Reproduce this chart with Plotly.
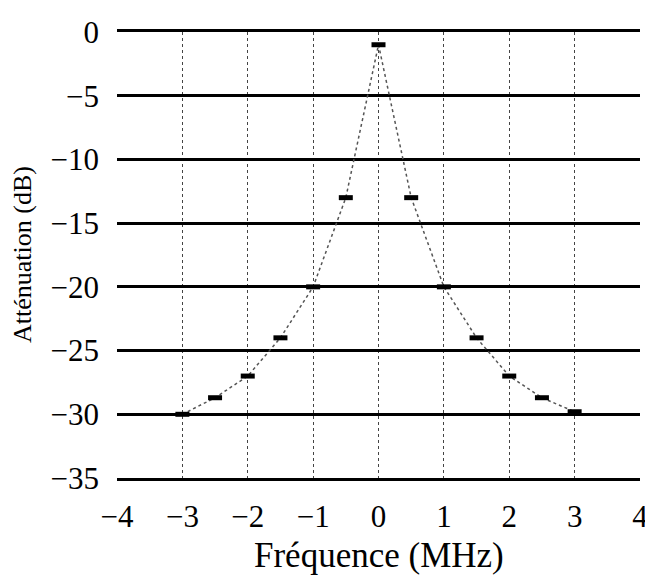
import plotly.graph_objects as go

freq_mhz = [-3, -2.5, -2, -1.5, -1, -0.5, 0, 0.5, 1, 1.5, 2, 2.5, 3]
atten_db = [-30, -28.7, -27, -24, -20, -13, -1, -13, -20, -24, -27, -28.7, -29.8]
x_ticks = [-4, -3, -2, -1, 0, 1, 2, 3, 4]
y_ticks = [0, -5, -10, -15, -20, -25, -30, -35]
x_title = "Fréquence (MHz)"
y_title = "Atténuation (dB)"

FONT = "'Liberation Serif', 'DejaVu Serif', serif"


def fmt(v):
    return ("\u2212" + str(-v)) if v < 0 else str(v)


fig = go.Figure()
fig.add_trace(go.Scatter(
    x=freq_mhz, y=atten_db, mode="lines+markers",
    line=dict(color="#555555", width=1.5, dash="dot"),
    marker=dict(symbol="line-ew", size=10, color="black",
                line=dict(width=5, color="black")),
    showlegend=False,
))

fig.update_layout(
    width=653, height=579,
    margin=dict(l=109, r=21, t=24, b=109, autoexpand=False),
    paper_bgcolor="white", plot_bgcolor="white",
    font=dict(family=FONT, color="black"),
    annotations=[
        dict(text=y_title, textangle=-90, xref="paper", yref="paper",
             x=0, y=0.5, xshift=-95, xanchor="center", yanchor="middle",
             showarrow=False, font=dict(family=FONT, size=26, color="black")),
        dict(text=x_title, xref="paper", yref="paper",
             x=0.5, y=0, yshift=-77, xanchor="center", yanchor="middle",
             showarrow=False, font=dict(family=FONT, size=35, color="black")),
    ],
)
fig.update_xaxes(
    range=[-4, 4], tickvals=x_ticks, ticktext=[fmt(v) for v in x_ticks],
    showgrid=True, gridcolor="#444444", gridwidth=1, griddash="dot",
    zeroline=False, showline=True, mirror=True, linecolor="black", linewidth=3,
    ticks="", ticklabelstandoff=9, automargin=False,
    tickfont=dict(family=FONT, size=31, color="black"),
)
fig.update_yaxes(
    range=[-35, 0], tickvals=y_ticks, ticktext=[fmt(v) for v in y_ticks],
    showgrid=True, gridcolor="black", gridwidth=3,
    zeroline=False, showline=False, automargin=False,
    ticks="", ticklabelstandoff=17,
    tickfont=dict(family=FONT, size=31, color="black"),
)

fig.write_html("out.html")
